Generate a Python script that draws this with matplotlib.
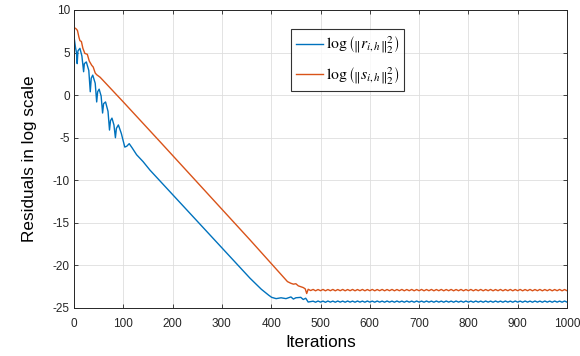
import matplotlib
matplotlib.use("Agg")
import matplotlib.pyplot as plt

plt.rcParams['font.family'] = ['Liberation Sans', 'DejaVu Sans']
plt.rcParams['mathtext.fontset'] = 'stix'
plt.rcParams['axes.unicode_minus'] = False

# ---- data ----
blue_iter = [0, 3, 5, 6.5, 8, 12, 16, 19.5, 21, 25, 30, 33, 35, 38, 43, 46, 48, 51,
             55, 58, 60, 64, 69, 72, 74, 77, 81, 84, 86, 90, 96, 103, 107, 112, 118,
             127, 140, 154, 357, 380, 395, 401, 410, 420, 430, 440, 445, 450, 460,
             465, 470, 475, 480]
blue_val = [6.9, 5.6, 5.0, 3.7, 5.2, 5.5, 4.6, 2.75, 3.7, 3.9, 2.9, 0.4, 2.0, 2.35,
            1.4, -0.8, 0.4, 0.7, -0.1, -2.1, -1.0, -0.8, -1.9, -4.1, -3.0, -2.7,
            -3.5, -5.0, -3.9, -3.5, -4.5, -6.1, -6.0, -5.7, -6.2, -7.0, -7.8, -8.8,
            -21.5, -22.8, -23.5, -23.75, -23.9, -23.8, -23.9, -23.7, -23.95, -23.8,
            -23.75, -24.0, -23.85, -24.3, -24.25]

orange_iter = [0, 4, 7, 10, 12, 15, 18, 22, 27, 31, 36, 39, 43, 46, 53, 100, 174.5,
               357, 433, 440, 445, 450, 455, 460, 465, 469, 472, 475, 480]
orange_val = [7.95, 7.8, 7.6, 6.8, 6.4, 6.3, 5.5, 4.9, 4.8, 4.0, 3.5, 3.3, 2.6, 2.4,
              2.1, -0.8, -5.47, -17.0, -21.9, -22.1, -22.2, -22.15, -22.4, -22.5,
              -22.6, -22.75, -23.3, -22.8, -22.95]

tail_iter = [485, 490, 495, 500, 505, 510, 515, 520, 525, 530, 535, 540, 545, 550,
             555, 560, 565, 570, 575, 580, 585, 590, 595, 600, 605, 610, 615, 620,
             625, 630, 635, 640, 645, 650, 655, 660, 665, 670, 675, 680, 685, 690,
             695, 700, 705, 710, 715, 720, 725, 730, 735, 740, 745, 750, 755, 760,
             765, 770, 775, 780, 785, 790, 795, 800, 805, 810, 815, 820, 825, 830,
             835, 840, 845, 850, 855, 860, 865, 870, 875, 880, 885, 890, 895, 900,
             905, 910, 915, 920, 925, 930, 935, 940, 945, 950, 955, 960, 965, 970,
             975, 980, 985, 990, 995, 1000]
blue_tail = [-24.20, -24.32, -24.18, -24.31, -24.19, -24.33, -24.18, -24.31, -24.19,
             -24.32, -24.18, -24.31, -24.19, -24.32, -24.18, -24.31, -24.19, -24.32,
             -24.18, -24.31, -24.19, -24.32, -24.18, -24.31, -24.19, -24.32, -24.18,
             -24.31, -24.19, -24.32, -24.18, -24.31, -24.19, -24.32, -24.18, -24.31,
             -24.19, -24.32, -24.18, -24.31, -24.19, -24.32, -24.18, -24.31, -24.19,
             -24.32, -24.18, -24.31, -24.19, -24.32, -24.18, -24.31, -24.19, -24.32,
             -24.18, -24.31, -24.19, -24.32, -24.18, -24.31, -24.19, -24.32, -24.18,
             -24.31, -24.19, -24.32, -24.18, -24.31, -24.19, -24.32, -24.18, -24.31,
             -24.19, -24.32, -24.18, -24.31, -24.19, -24.32, -24.18, -24.31, -24.19,
             -24.32, -24.18, -24.31, -24.19, -24.32, -24.18, -24.31, -24.19, -24.32,
             -24.18, -24.31, -24.19, -24.32, -24.18, -24.31, -24.19, -24.32, -24.18,
             -24.31, -24.19, -24.32, -24.18, -24.31]
orange_tail = [-22.82, -22.98, -22.83, -22.97, -22.82, -22.98, -22.83, -22.97, -22.82,
               -22.98, -22.83, -22.97, -22.82, -22.98, -22.83, -22.97, -22.82, -22.98,
               -22.83, -22.97, -22.82, -22.98, -22.83, -22.97, -22.82, -22.98, -22.83,
               -22.97, -22.82, -22.98, -22.83, -22.97, -22.82, -22.98, -22.83, -22.97,
               -22.82, -22.98, -22.83, -22.97, -22.82, -22.98, -22.83, -22.97, -22.82,
               -22.98, -22.83, -22.97, -22.82, -22.98, -22.83, -22.97, -22.82, -22.98,
               -22.83, -22.97, -22.82, -22.98, -22.83, -22.97, -22.82, -22.98, -22.83,
               -22.97, -22.82, -22.98, -22.83, -22.97, -22.82, -22.98, -22.83, -22.97,
               -22.82, -22.98, -22.83, -22.97, -22.82, -22.98, -22.83, -22.97, -22.82,
               -22.98, -22.83, -22.97, -22.82, -22.98, -22.83, -22.97, -22.82, -22.98,
               -22.83, -22.97, -22.82, -22.98, -22.83, -22.97, -22.82, -22.98, -22.83,
               -22.97, -22.82, -22.98, -22.83, -22.97]

x_ticks = [0, 100, 200, 300, 400, 500, 600, 700, 800, 900, 1000]
y_ticks = [-25, -20, -15, -10, -5, 0, 5, 10]

labels = [r'$\log\left(\left\|r_{i,h}\right\|_2^2\right)$',
          r'$\log\left(\left\|s_{i,h}\right\|_2^2\right)$']

blue = '#0072BD'
orange = '#D95319'

fig = plt.figure(figsize=(5.8, 3.56), dpi=100)
ax = fig.add_axes([74/580, 48/356, 493/580, 298/356])

ax.plot(blue_iter + tail_iter, blue_val + blue_tail, color=blue, lw=1.0, label=labels[0])
ax.plot(orange_iter + tail_iter, orange_val + orange_tail, color=orange, lw=1.0, label=labels[1])

ax.set_xlim(0, 1000)
ax.set_ylim(-25, 10)
ax.set_xticks(x_ticks)
ax.set_yticks(y_ticks)
ax.grid(True, color='#dedede', lw=0.6)
ax.set_axisbelow(True)
ax.tick_params(direction='in', top=True, right=True, length=3, width=0.6,
               labelsize=8.5, colors='#262626')
ax.tick_params(axis='x', pad=7)
ax.tick_params(axis='y', pad=3)
for s in ax.spines.values():
    s.set_color('#262626')
    s.set_linewidth(0.7)

ax.set_xlabel('Iterations', fontsize=12.3, color='black', labelpad=4)
ax.set_ylabel('Residuals in log scale', fontsize=12.3, color='black', labelpad=11)

leg = ax.legend(loc='upper left', bbox_to_anchor=((291-74)/493, (308-29)/298),
                fontsize=11.3, frameon=True, fancybox=False, edgecolor='black',
                handlelength=1.7, handletextpad=0.15, borderpad=0.35, labelspacing=0.6,
                borderaxespad=0)
leg.get_frame().set_linewidth(0.8)

fig.savefig('out.png', dpi=100)
